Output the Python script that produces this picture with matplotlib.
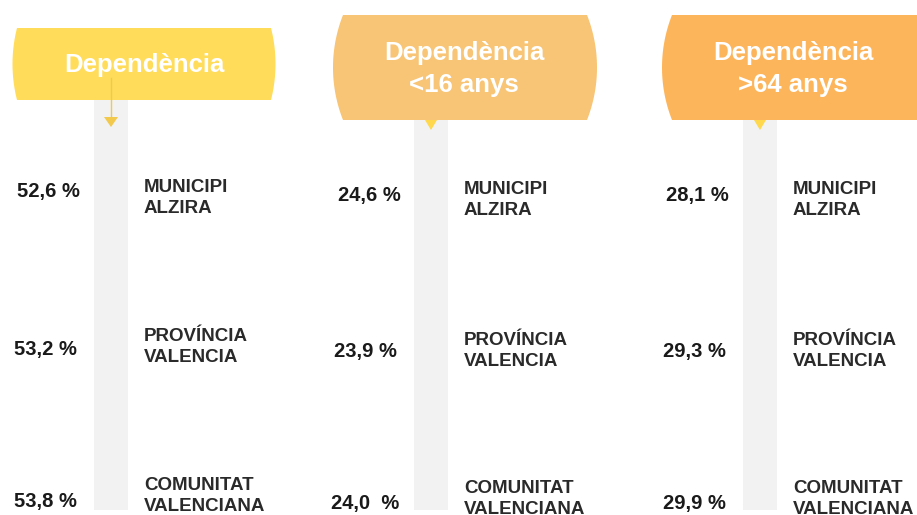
import numpy as np
import matplotlib.pyplot as plt
from matplotlib.patches import Polygon, Rectangle

# data
titles = ["Dependència", "Dependència\n<16 anys", "Dependència\n>64 anys"]
regions = ["MUNICIPI\nALZIRA", "PROVÍNCIA\nVALENCIA", "COMUNITAT\nVALENCIANA"]
dep_total = ["52,6 %", "53,2 %", "53,8 %"]
dep_menors16 = ["24,6 %", "23,9 %", "24,0  %"]
dep_majors64 = ["28,1 %", "29,3 %", "29,9 %"]
valors = [dep_total, dep_menors16, dep_majors64]

# layout (pixels)
head_col = ["#FFDC5A", "#F8C475", "#FDB55C"]
head_box = [(17, 271, 28, 100, 4.5), (343, 587, 15, 120, 10), (672, 935, 15, 120, 10)]
title_x = [144, 464, 793]
title_y = [65, 69, 69]
bar_x = [94, 414, 743]
val_x = [[48, 45, 45], [369, 365, 365], [697, 694, 694]]
val_y = [[192, 349, 501], [196, 352, 503], [196, 352, 503]]
lab_x = [144, 464, 793]
lab_y = [[198, 347, 496], [200, 351, 499], [200, 351, 499]]

FONT = "Liberation Sans"


def capsa(x0, x1, y0, y1, b):
    h = y1 - y0
    yc = (y0 + y1) / 2
    R = (h ** 2 / 4 + b ** 2) / (2 * b)
    ys = np.linspace(y0, y1, 60)
    dx = np.sqrt(R ** 2 - (ys - yc) ** 2) - (R - b)
    esq = np.column_stack([x0 - dx, ys])
    dre = np.column_stack([x1 + dx, ys])[::-1]
    return np.vstack([esq, dre])


fig = plt.figure(figsize=(9.17, 5.15), dpi=100)
ax = fig.add_axes([0, 0, 1, 1])
ax.set_xlim(0, 917)
ax.set_ylim(515, 0)
ax.axis("off")

for i in range(3):
    x0, x1, y0, y1, b = head_box[i]
    ax.add_patch(Rectangle((bar_x[i], y1 - 2), 34, 512 - y1, color="#F1F2F1", lw=0, zorder=1))
    ax.add_patch(Polygon(capsa(x0, x1, y0, y1, b), closed=True, color=head_col[i], lw=0, zorder=2))
    ax.text(title_x[i], title_y[i], titles[i], color="white", fontsize=18.5, fontweight="bold",
            family=FONT, ha="center", va="center", linespacing=1.45, zorder=3)
    for j in range(3):
        ax.text(val_x[i][j], val_y[i][j], valors[i][j], color="#1a1a1a", fontsize=14.5,
                fontweight="bold", family=FONT, ha="center", va="center", zorder=3)
        ax.text(lab_x[i], lab_y[i][j], regions[j], color="#2a2a2a", fontsize=13.5,
                fontweight="bold", family=FONT, ha="left", va="center", linespacing=1.3, zorder=3)

# fletxa del primer panell
ax.plot([111, 111], [78, 119], color="#F2C94C", lw=1, zorder=3)
ax.add_patch(Polygon([[104, 117], [118, 117], [111, 127]], closed=True, color="#F2C94C", lw=0, zorder=3))
# triangles
for cx in [431, 760]:
    ax.add_patch(Polygon([[cx - 6, 120], [cx + 6, 120], [cx, 130]], closed=True, color="#FFD84D",
                         lw=0, zorder=1.5))

fig.savefig("out.png", dpi=100)
